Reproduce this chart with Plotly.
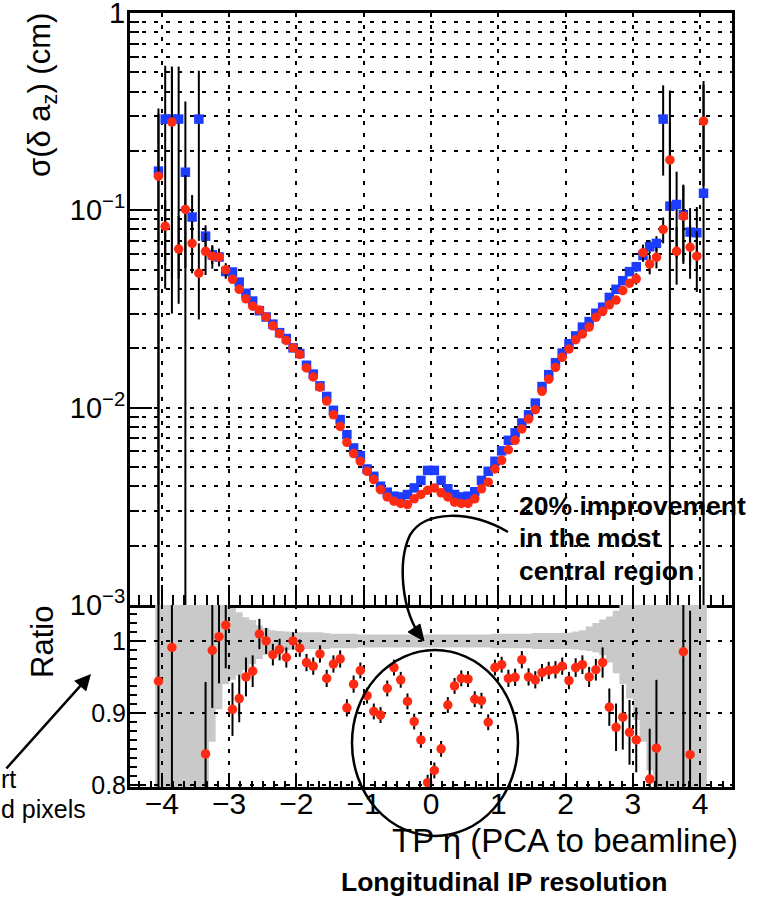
import plotly.graph_objects as go

# ---------------- data ----------------
eta = [-4.05, -3.95, -3.85, -3.75, -3.65, -3.55, -3.45, -3.35, -3.25, -3.15,
       -3.05, -2.95, -2.85, -2.75, -2.65, -2.55, -2.45, -2.35, -2.25, -2.15,
       -2.05, -1.95, -1.85, -1.75, -1.65, -1.55, -1.45, -1.35, -1.25, -1.15,
       -1.05, -0.95, -0.85, -0.75, -0.65, -0.55, -0.45, -0.35, -0.25, -0.15,
       -0.05, 0.05, 0.15, 0.25, 0.35, 0.45, 0.55, 0.65, 0.75, 0.85,
       0.95, 1.05, 1.15, 1.25, 1.35, 1.45, 1.55, 1.65, 1.75, 1.85,
       1.95, 2.05, 2.15, 2.25, 2.35, 2.45, 2.55, 2.65, 2.75, 2.85,
       2.95, 3.05, 3.15, 3.25, 3.35, 3.45, 3.55, 3.65, 3.75, 3.85,
       3.95, 4.05]

sigma_blue = [0.158, 0.29, 0.29, 0.29, 0.156, 0.0925, 0.29, 0.074, 0.0595, 0.058,
              0.049, 0.0487, 0.0433, 0.038, 0.0347, 0.031, 0.0288, 0.0265, 0.024, 0.0224,
              0.0201, 0.0188, 0.0164, 0.0148, 0.0129, 0.0114, 0.0097, 0.0087, 0.0073, 0.00625,
              0.00571, 0.00489, 0.00449, 0.0040, 0.00373, 0.00356, 0.00353, 0.00363, 0.00392, 0.00428,
              0.00481, 0.00481, 0.00428, 0.00388, 0.00363, 0.00353, 0.00356, 0.00375, 0.00428, 0.00476,
              0.00535, 0.00604, 0.00683, 0.00745, 0.00836, 0.0092, 0.01055, 0.0128, 0.0147, 0.0169,
              0.0189, 0.0211, 0.0231, 0.0256, 0.0273, 0.0301, 0.0323, 0.0362, 0.0398, 0.044,
              0.0489, 0.0518, 0.059, 0.0654, 0.068, 0.29, 0.105, 0.107, 0.095, 0.0776,
              0.077, 0.122]

err_blue = [0.17, 0.25, 0.245, 0.245, 0.2, 0.027, 0.22, 0.01, 0.006, 0.005,
            0.004, 0.002, 0, 0, 0, 0, 0, 0, 0, 0,
            0, 0, 0, 0, 0, 0, 0, 0, 0, 0,
            0, 0, 0, 0, 0, 0, 0, 0, 0, 0,
            0, 0, 0, 0, 0, 0, 0, 0, 0, 0,
            0, 0, 0, 0, 0, 0, 0, 0, 0, 0,
            0, 0, 0, 0, 0, 0, 0, 0, 0, 0,
            0.002, 0.003, 0.004, 0.005, 0.006, 0.14, 0.30, 0.05, 0.04, 0.025,
            0.027, 0.33]

sigma_red = [0.149, 0.083, 0.28, 0.0636, 0.101, 0.068, 0.048, 0.062, 0.0586, 0.058,
             0.050, 0.0447, 0.0398, 0.0356, 0.0327, 0.0313, 0.0288, 0.026, 0.0237, 0.0219,
             0.0201, 0.0186, 0.0159, 0.0143, 0.0127, 0.0108, 0.0092, 0.00803, 0.00667, 0.00585,
             0.00535, 0.00476, 0.00432, 0.00384, 0.00353, 0.00336, 0.00327, 0.00323, 0.00345, 0.00363,
             0.00381, 0.00392, 0.0037, 0.00353, 0.00332, 0.00327, 0.00327, 0.00345, 0.00388, 0.00419,
             0.00489, 0.00541, 0.00612, 0.00683, 0.0078, 0.00875, 0.00976, 0.0121, 0.01395, 0.016,
             0.018, 0.0198, 0.0221, 0.0236, 0.0256, 0.0287, 0.0307, 0.0332, 0.0351, 0.0392,
             0.0427, 0.045, 0.061, 0.0534, 0.0578, 0.080, 0.18, 0.062, 0.0935, 0.065,
             0.0586, 0.283]

err_red = [0.16, 0.03, 0.25, 0.03, 0.05, 0.02, 0.02, 0.015, 0.008, 0.006,
           0.004, 0.002, 0, 0, 0, 0, 0, 0, 0, 0,
           0, 0, 0, 0, 0, 0, 0, 0, 0, 0,
           0, 0, 0, 0, 0, 0, 0, 0, 0, 0,
           0, 0, 0, 0, 0, 0, 0, 0, 0, 0,
           0, 0, 0, 0, 0, 0, 0, 0, 0, 0,
           0, 0, 0, 0, 0, 0, 0, 0, 0, 0,
           0.002, 0.003, 0.006, 0.006, 0.007, 0.012, 0.1, 0.02, 0.04, 0.02,
           0.02, 0.15]

ratio = [0.944, None, 0.991, None, None, None, None, 0.843, 0.987, 1.006,
         1.022, 0.905, 0.920, 0.950, 0.958, 1.0097, 1.000, 0.981, 0.988, 0.977,
         1.000, 0.990, 0.970, 0.965, 0.982, 0.948, 0.968, 0.975, 0.907, 0.940,
         0.959, 0.924, 0.902, 0.897, 0.934, 0.963, 0.946, 0.916, 0.888, 0.8625,
         0.803, 0.820, 0.850, 0.911, 0.9375, 0.948, 0.947, 0.919, 0.917, 0.887,
         0.963, 0.967, 0.948, 0.9495, 0.974, 0.950, 0.946, 0.956, 0.959, 0.960,
         0.965, 0.945, 0.963, 0.967, 0.950, 0.960, 0.970, 0.908, 0.880, 0.894,
         0.873, 0.8625, None, 0.808, 0.851, None, None, None, 0.985, 0.842,
         None, None]

ratio_err = [0.3, 0, 0.3, 0, 0, 0, 0, 0.1, 0.08, 0.065,
             0.06, 0.037, 0.033, 0.027, 0.022, 0.021, 0.018, 0.015, 0.015, 0.014,
             0.012, 0.012, 0.012, 0.012, 0.012, 0.012, 0.012, 0.012, 0.012, 0.012,
             0.011, 0.011, 0.011, 0.011, 0.011, 0.011, 0.011, 0.011, 0.011, 0.011,
             0.011, 0.011, 0.011, 0.011, 0.011, 0.011, 0.011, 0.011, 0.011, 0.011,
             0.011, 0.011, 0.012, 0.012, 0.012, 0.012, 0.012, 0.012, 0.012, 0.012,
             0.012, 0.012, 0.013, 0.013, 0.014, 0.015, 0.021, 0.026, 0.033, 0.045,
             0.045, 0.045, 0, 0.07, 0.095, 0, 0, 0, 0.3, 0.2,
             0, 0]

band_hi = [1.06, 1.06, 1.06, 1.06, 1.06, 1.06, 1.06, 1.06, 1.06, 1.06,
           1.06, 1.046, 1.04, 1.033, 1.029, 1.022, 1.018, 1.015, 1.014, 1.013,
           1.0125, 1.012, 1.012, 1.012, 1.012, 1.011, 1.01, 1.01, 1.01, 1.01,
           1.009, 1.009, 1.009, 1.009, 1.009, 1.009, 1.009, 1.009, 1.009, 1.009,
           1.009, 1.009, 1.009, 1.009, 1.009, 1.009, 1.009, 1.009, 1.009, 1.009,
           1.01, 1.01, 1.01, 1.01, 1.01, 1.01, 1.011, 1.011, 1.011, 1.011,
           1.011, 1.0115, 1.013, 1.015, 1.02, 1.025, 1.03, 1.034, 1.042, 1.06,
           1.06, 1.06, 1.06, 1.06, 1.06, 1.06, 1.06, 1.06, 1.06, 1.06,
           1.06, 1.06]

band_lo = [0.78, 0.78, 0.78, 0.78, 0.78, 0.78, 0.78, 0.78, 0.86, 0.905,
           0.94, 0.946, 0.952, 0.96, 0.968, 0.975, 0.981, 0.984, 0.986, 0.987,
           0.988, 0.989, 0.989, 0.989, 0.989, 0.989, 0.99, 0.99, 0.99, 0.99,
           0.991, 0.991, 0.991, 0.991, 0.991, 0.991, 0.991, 0.991, 0.991, 0.991,
           0.991, 0.991, 0.991, 0.991, 0.991, 0.991, 0.991, 0.991, 0.991, 0.991,
           0.99, 0.99, 0.99, 0.99, 0.99, 0.99, 0.989, 0.989, 0.989, 0.989,
           0.989, 0.989, 0.988, 0.987, 0.986, 0.984, 0.98, 0.97, 0.955, 0.94,
           0.92, 0.89, 0.86, 0.82, 0.78, 0.78, 0.78, 0.78, 0.78, 0.78,
           0.78, 0.78]

BIN_W = 0.1
x_ticks = [-4, -3, -2, -1, 0, 1, 2, 3, 4]
y_ticks = [0.001, 0.01, 0.1, 1]
y_ticktext = ["10<sup>\u22123</sup>", "10<sup>\u22122</sup>", "10<sup>\u22121</sup>", "1"]
y_minor = [0.002, 0.003, 0.004, 0.005, 0.006, 0.007, 0.008, 0.009,
           0.02, 0.03, 0.04, 0.05, 0.06, 0.07, 0.08, 0.09,
           0.2, 0.3, 0.4, 0.5, 0.6, 0.7, 0.8, 0.9]
r_ticks = [0.8, 0.9, 1.0]
r_ticktext = ["0.8", "0.9", "1"]

# ---------------- style / layout ----------------
W, H = 776, 915
ML, MR, MT, MB = 130, 44, 13, 128
PW, PH = W - ML - MR, H - MT - MB
SPLIT = (H - MB - 605) / PH

def pxx(x):
    return (x - ML) / PW

def pxy(y):
    return (H - MB - y) / PH

FONT = "Liberation Sans, Arial, Helvetica, sans-serif"
RED = "#ff2a12"
BLUE = "#1c3cff"
GRID = dict(showgrid=True, gridcolor="black", gridwidth=2, griddash="4px,8px")
LINE = dict(showline=True, linecolor="black", linewidth=3, zeroline=False, automargin=False)

fig = go.Figure()

fig.add_trace(go.Scatter(
    x=eta, y=sigma_blue, mode="markers", xaxis="x", yaxis="y",
    marker=dict(symbol="square", size=9.5, color=BLUE),
    error_y=dict(type="data", array=err_blue, color="black", thickness=2, width=0),
    showlegend=False))
fig.add_trace(go.Scatter(
    x=eta, y=sigma_red, mode="markers", xaxis="x", yaxis="y",
    marker=dict(symbol="circle", size=9.5, color=RED),
    error_y=dict(type="data", array=err_red, color="black", thickness=2, width=0),
    showlegend=False))
fig.add_trace(go.Scatter(
    x=eta, y=ratio, mode="markers", xaxis="x2", yaxis="y2",
    marker=dict(symbol="circle", size=9.5, color=RED),
    error_y=dict(type="data", array=ratio_err, color="black", thickness=2, width=0),
    showlegend=False))

# grey uncertainty band in ratio panel (step outline built from bin data)
pts = []
for c, h in zip(eta, band_hi):
    pts.append((c - BIN_W / 2, h))
    pts.append((c + BIN_W / 2, h))
for c, l in zip(reversed(eta), reversed(band_lo)):
    pts.append((c + BIN_W / 2, l))
    pts.append((c - BIN_W / 2, l))
band_path = "M " + " L ".join(f"{a:.4f},{b:.4f}" for a, b in pts) + " Z"

shapes = [
    dict(type="path", path=band_path, xref="x2", yref="y2", layer="below",
         fillcolor="#c9c9c9", line=dict(width=0)),
    dict(type="circle", xref="paper", yref="paper",
         x0=pxx(352), x1=pxx(518), y0=pxy(836), y1=pxy(650),
         line=dict(color="black", width=2.5), layer="above"),
]

# curved arrow (annotation decoration)
cpts = [(508, 532), (470, 510), (425, 510), (410, 535), (398, 560), (400, 610), (423, 640)]
cp = [(pxx(a), pxy(b)) for a, b in cpts]
curve = (f"M {cp[0][0]},{cp[0][1]} C {cp[1][0]},{cp[1][1]} {cp[2][0]},{cp[2][1]} {cp[3][0]},{cp[3][1]} "
         f"C {cp[4][0]},{cp[4][1]} {cp[5][0]},{cp[5][1]} {cp[6][0]},{cp[6][1]}")
shapes.append(dict(type="path", path=curve, xref="paper", yref="paper",
                   line=dict(color="black", width=2.5), layer="above"))
head = [(424, 641), (408, 632), (420, 624)]
hp = [(pxx(a), pxy(b)) for a, b in head]
shapes.append(dict(type="path", xref="paper", yref="paper", layer="above",
                   path=f"M {hp[0][0]},{hp[0][1]} L {hp[1][0]},{hp[1][1]} L {hp[2][0]},{hp[2][1]} Z",
                   fillcolor="black", line=dict(color="black", width=1)))

annotations = [
    dict(text="\u03c3(\u03b4 a<sub>z</sub>) (cm)", x=pxx(42), y=pxy(11), xref="paper", yref="paper",
         xanchor="center", yanchor="top", textangle=-90, showarrow=False,
         font=dict(family=FONT, size=31, color="black")),
    dict(text="Ratio", x=pxx(42), y=pxy(642), xref="paper", yref="paper",
         xanchor="center", yanchor="middle", textangle=-90, showarrow=False,
         font=dict(family=FONT, size=31, color="black")),
    dict(text="TP \u03b7 (PCA to beamline)", x=pxx(740), y=pxy(840), xref="paper", yref="paper",
         xanchor="right", yanchor="middle", showarrow=False,
         font=dict(family=FONT, size=33, color="black")),
    dict(text="<b>20% improvement</b>", x=pxx(517), y=pxy(506), xref="paper", yref="paper",
         xanchor="left", yanchor="middle", showarrow=False,
         font=dict(family=FONT, size=26.5, color="black")),
    dict(text="<b>in the most</b>", x=pxx(517), y=pxy(538), xref="paper", yref="paper",
         xanchor="left", yanchor="middle", showarrow=False,
         font=dict(family=FONT, size=26.5, color="black")),
    dict(text="<b>central region</b>", x=pxx(517), y=pxy(571), xref="paper", yref="paper",
         xanchor="left", yanchor="middle", showarrow=False,
         font=dict(family=FONT, size=26.5, color="black")),
    dict(text="<b>Longitudinal IP resolution</b>", x=pxx(504), y=pxy(882), xref="paper", yref="paper",
         xanchor="center", yanchor="middle", showarrow=False,
         font=dict(family=FONT, size=26.5, color="black")),
    dict(text="rt", x=pxx(-1), y=pxy(779), xref="paper", yref="paper",
         xanchor="left", yanchor="middle", showarrow=False,
         font=dict(family=FONT, size=25, color="black")),
    dict(text="d pixels", x=pxx(-1), y=pxy(809), xref="paper", yref="paper",
         xanchor="left", yanchor="middle", showarrow=False,
         font=dict(family=FONT, size=25, color="black")),
    dict(text="", x=pxx(91), y=pxy(674), xref="paper", yref="paper",
         ax=-86, ay=96, showarrow=True, arrowhead=2, arrowsize=1.3, arrowwidth=2.5,
         arrowcolor="black"),
]

XR = [-4.473, 4.473]

fig.update_layout(
    width=W, height=H,
    margin=dict(l=ML, r=MR, t=MT, b=MB, pad=0, autoexpand=False),
    paper_bgcolor="white", plot_bgcolor="white",
    font=dict(family=FONT, color="black"),
    showlegend=False,
    shapes=shapes, annotations=annotations,
    xaxis=dict(domain=[0, 1], anchor="y", range=XR, matches="x2", mirror=True,
               tickvals=x_ticks, showticklabels=False,
               ticks="inside", ticklen=20, tickwidth=2, tickcolor="black",
               minor=dict(ticks="inside", ticklen=10, tickwidth=2, tickcolor="black", dtick=1 / 6, tick0=0),
               **GRID, **LINE),
    yaxis=dict(domain=[SPLIT, 1], anchor="x", type="log", range=[-3, 0], mirror=True,
               tickvals=y_ticks, ticktext=y_ticktext, ticklabeloverflow="allow",
               ticklabelstandoff=-4,
               tickfont=dict(family=FONT, size=29, color="black"),
               ticks="inside", ticklen=22, tickwidth=2, tickcolor="black",
               minor=dict(tickvals=y_minor, ticks="inside", ticklen=9, tickwidth=2, tickcolor="black",
                          showgrid=True, gridcolor="black", gridwidth=2, griddash="4px,8px"),
               **GRID, **LINE),
    xaxis2=dict(domain=[0, 1], anchor="y2", range=XR, mirror=False,
                tickvals=x_ticks, tickfont=dict(family=FONT, size=30, color="black"),
                ticklabelstandoff=-12, ticklabeloverflow="allow",
                ticks="inside", ticklen=12, tickwidth=2, tickcolor="black",
                minor=dict(ticks="inside", ticklen=6, tickwidth=2, tickcolor="black", dtick=1 / 6, tick0=0),
                **GRID, **LINE),
    yaxis2=dict(domain=[0, SPLIT], anchor="x2", range=[0.797, 1.05], mirror=True,
                tickvals=r_ticks, ticktext=r_ticktext, ticklabelstandoff=-4,
                ticklabeloverflow="allow",
                tickfont=dict(family=FONT, size=25, color="black"),
                ticks="inside", ticklen=14, tickwidth=2, tickcolor="black",
                minor=dict(ticks="inside", ticklen=7, tickwidth=2, tickcolor="black", dtick=0.0125, tick0=0.8),
                **GRID, **LINE),
)

fig.write_html("out.html")
